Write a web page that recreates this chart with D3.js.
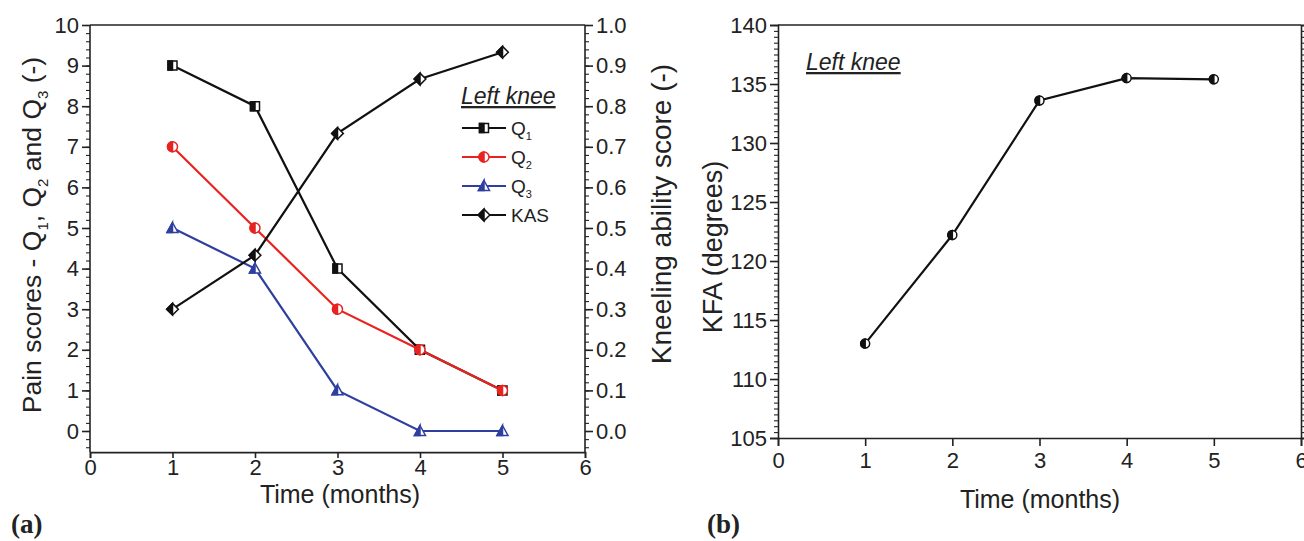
<!DOCTYPE html>
<html>
<head>
    <meta charset="utf-8">
    <title>Left knee</title>
    <script src="https://d3js.org/d3.v7.min.js"></script>
    <style>
        body { margin: 0; background: #fff; }
        svg text { font-family: "Liberation Sans", Arial, sans-serif; fill: #222; }
        .tick text { font-size: 22px; }
        .axis path, .axis line { stroke: #222; stroke-width: 1.6; }
        .minor line { stroke-width: 1.1; }
        .panel-tag { font-family: "Liberation Serif", serif; font-weight: bold; font-size: 27px; }
    </style>
</head>
<body>
<div id="chart"></div>
<script>
// 資料
const months = [1, 2, 3, 4, 5];
const q1 = [9, 8, 4, 2, 1];
const q2 = [7, 5, 3, 2, 1];
const q3 = [5, 4, 1, 0, 0];
const kas = [0.3, 0.433, 0.733, 0.867, 0.933];
const kfa = [113.0, 122.2, 133.6, 135.5, 135.4];

const painTicks = [0, 1, 2, 3, 4, 5, 6, 7, 8, 9, 10];
const kasTicks = [0, 0.1, 0.2, 0.3, 0.4, 0.5, 0.6, 0.7, 0.8, 0.9, 1.0];
const kfaTicks = [105, 110, 115, 120, 125, 130, 135, 140];
const timeTicks = [0, 1, 2, 3, 4, 5, 6];

const colors = { q1: "#111", q2: "#e8231f", q3: "#2e3fa0", kas: "#111", kfa: "#111" };

const svg = d3.select("#chart").append("svg")
    .attr("width", 1304).attr("height", 541);

// 半填充標記
function markerPaths(shape, s) {
    if (shape === "square") {
        return [`M${-s},${-s}H${s}V${s}H${-s}Z`, `M${-s},${-s}H0V${s}H${-s}Z`];
    }
    if (shape === "circle") {
        return [`M0,${-s}A${s},${s} 0 1 1 0,${s}A${s},${s} 0 1 1 0,${-s}Z`,
                `M0,${-s}A${s},${s} 0 0 0 0,${s}Z`];
    }
    if (shape === "triangle") {
        const h = s * 1.1;
        return [`M0,${-h}L${s * 1.1},${h * 0.8}L${-s * 1.1},${h * 0.8}Z`,
                `M0,${-h}L0,${h * 0.8}L${-s * 1.1},${h * 0.8}Z`];
    }
    // diamond
    const d = s * 1.3;
    return [`M0,${-d}L${d},0L0,${d}L${-d},0Z`, `M0,${-d}L0,${d}L${-d},0Z`];
}

function drawMarker(g, x, y, shape, color, s) {
    const p = markerPaths(shape, s);
    g.append("path").attr("d", p[0]).attr("transform", `translate(${x},${y})`)
        .attr("fill", "#fff").attr("stroke", color).attr("stroke-width", 1.5);
    g.append("path").attr("d", p[1]).attr("transform", `translate(${x},${y})`)
        .attr("fill", color).attr("stroke", color).attr("stroke-width", 1.5);
}

function drawSeries(g, xs, ys, x, y, color, shape, s) {
    const pts = xs.map((m, i) => [x(m), y(ys[i])]);
    g.append("path").datum(pts)
        .attr("d", d3.line())
        .attr("fill", "none").attr("stroke", color).attr("stroke-width", 2.2);
    pts.forEach(p => drawMarker(g, p[0], p[1], shape, color, s));
}

function minorAxis(g, axisFn, scale, step, domain) {
    const vals = d3.range(domain[0], domain[1] + step / 2, step);
    g.append("g").attr("class", "axis minor")
        .call(axisFn(scale).tickValues(vals).tickSize(4).tickFormat(""))
        .call(a => a.select(".domain").remove());
}

// ---------- (a) ----------
const ax = d3.scaleLinear().domain([0, 6]).range([90, 585]);
const ayL = d3.scaleLinear().domain([0, 10]).range([431, 25]);
const ayR = d3.scaleLinear().domain([0, 1]).range([431, 25]);
const aBottom = ayL(-0.52);

const ga = svg.append("g");
// top frame
ga.append("line").attr("x1", 90).attr("x2", 585).attr("y1", 25).attr("y2", 25)
    .attr("stroke", "#222").attr("stroke-width", 1.6);

// left axis
const leftG = ga.append("g").attr("transform", "translate(90,0)");
minorAxis(leftG, d3.axisLeft, ayL, 0.2, [-0.4, 10]);
leftG.append("g").attr("class", "axis")
    .call(d3.axisLeft(ayL).tickValues(painTicks).tickSize(8).tickPadding(3).tickFormat(d3.format("d")))
    .call(a => a.select(".domain").attr("d", `M0,${aBottom}V25`));

// right axis
const rightG = ga.append("g").attr("transform", "translate(585,0)");
minorAxis(rightG, d3.axisRight, ayR, 0.02, [-0.04, 1]);
rightG.append("g").attr("class", "axis")
    .call(d3.axisRight(ayR).tickValues(kasTicks).tickSize(8).tickPadding(3).tickFormat(d3.format(".1f")))
    .call(a => a.select(".domain").attr("d", `M0,${aBottom}V25`));

// bottom axis
ga.append("g").attr("class", "axis").attr("transform", `translate(0,${aBottom})`)
    .call(d3.axisBottom(ax).tickValues(timeTicks).tickSize(6).tickPadding(1).tickFormat(d3.format("d")));

// series
drawSeries(ga, months, q1, ax, ayL, colors.q1, "square", 4.5);
drawSeries(ga, months, q2, ax, ayL, colors.q2, "circle", 5);
drawSeries(ga, months, q3, ax, ayL, colors.q3, "triangle", 5);
drawSeries(ga, months, kas, ax, ayR, colors.kas, "diamond", 4.5);

// axis titles
const tL = ga.append("text").attr("transform", "translate(41,235) rotate(-90)")
    .attr("text-anchor", "middle").attr("font-size", 26.5);
tL.append("tspan").text("Pain scores - Q");
tL.append("tspan").text("1").attr("font-size", 15).attr("dy", 7);
tL.append("tspan").text(", Q").attr("dy", -7);
tL.append("tspan").text("2").attr("font-size", 15).attr("dy", 7);
tL.append("tspan").text(" and Q").attr("dy", -7);
tL.append("tspan").text("3").attr("font-size", 15).attr("dy", 7);
tL.append("tspan").text(" (-)").attr("dy", -7);

ga.append("text").attr("transform", "translate(671,214) rotate(-90)")
    .attr("text-anchor", "middle").attr("font-size", 28)
    .text("Kneeling ability score (-)");

ga.append("text").attr("x", 340).attr("y", 503).attr("text-anchor", "middle")
    .attr("font-size", 25).text("Time (months)");

// legend
ga.append("text").attr("x", 461).attr("y", 104).attr("font-size", 23)
    .attr("font-style", "italic").attr("text-decoration", "underline").text("Left knee");
const legendItems = [
    { name: "Q", sub: "1", color: colors.q1, shape: "square", s: 4.5 },
    { name: "Q", sub: "2", color: colors.q2, shape: "circle", s: 5 },
    { name: "Q", sub: "3", color: colors.q3, shape: "triangle", s: 5 },
    { name: "KAS", sub: "", color: colors.kas, shape: "diamond", s: 4.5 }
];
legendItems.forEach((d, i) => {
    const y = 128 + i * 29;
    ga.append("line").attr("x1", 462).attr("x2", 506).attr("y1", y).attr("y2", y)
        .attr("stroke", d.color).attr("stroke-width", 2.2);
    drawMarker(ga, 484, y, d.shape, d.color, d.s);
    const t = ga.append("text").attr("x", 511).attr("y", y + 7).attr("font-size", 19);
    t.append("tspan").text(d.name);
    if (d.sub) t.append("tspan").text(d.sub).attr("font-size", 11).attr("dy", 5);
});

svg.append("text").attr("class", "panel-tag").attr("x", 11).attr("y", 533).text("(a)");

// ---------- (b) ----------
const bx = d3.scaleLinear().domain([0, 6]).range([778, 1301]);
const by = d3.scaleLinear().domain([105, 140]).range([438, 25]);

const gb = svg.append("g");
gb.append("line").attr("x1", 778).attr("x2", 1301).attr("y1", 25).attr("y2", 25)
    .attr("stroke", "#222").attr("stroke-width", 1.6);

const bLeft = gb.append("g").attr("transform", "translate(778,0)");
minorAxis(bLeft, d3.axisLeft, by, 0.5, [105, 140]);
bLeft.append("g").attr("class", "axis")
    .call(d3.axisLeft(by).tickValues(kfaTicks).tickSize(8).tickPadding(3).tickFormat(d3.format("d")));

const bRight = gb.append("g").attr("transform", "translate(1301,0)");
minorAxis(bRight, d3.axisRight, by, 0.5, [105, 140]);
bRight.append("g").attr("class", "axis")
    .call(d3.axisRight(by).tickValues(kfaTicks).tickSize(8).tickFormat(""));

gb.append("g").attr("class", "axis").attr("transform", "translate(0,438)")
    .call(d3.axisBottom(bx).tickValues(timeTicks).tickSize(8).tickPadding(6).tickFormat(d3.format("d")));

drawSeries(gb, months, kfa, bx, by, colors.kfa, "circle", 4.5);

gb.append("text").attr("transform", "translate(722,247) rotate(-90)")
    .attr("text-anchor", "middle").attr("font-size", 27).text("KFA (degrees)");
gb.append("text").attr("x", 1040).attr("y", 508).attr("text-anchor", "middle")
    .attr("font-size", 25).text("Time (months)");
gb.append("text").attr("x", 806).attr("y", 70).attr("font-size", 23)
    .attr("font-style", "italic").attr("text-decoration", "underline").text("Left knee");

svg.append("text").attr("class", "panel-tag").attr("x", 707).attr("y", 533).text("(b)");
</script>
</body>
</html>
